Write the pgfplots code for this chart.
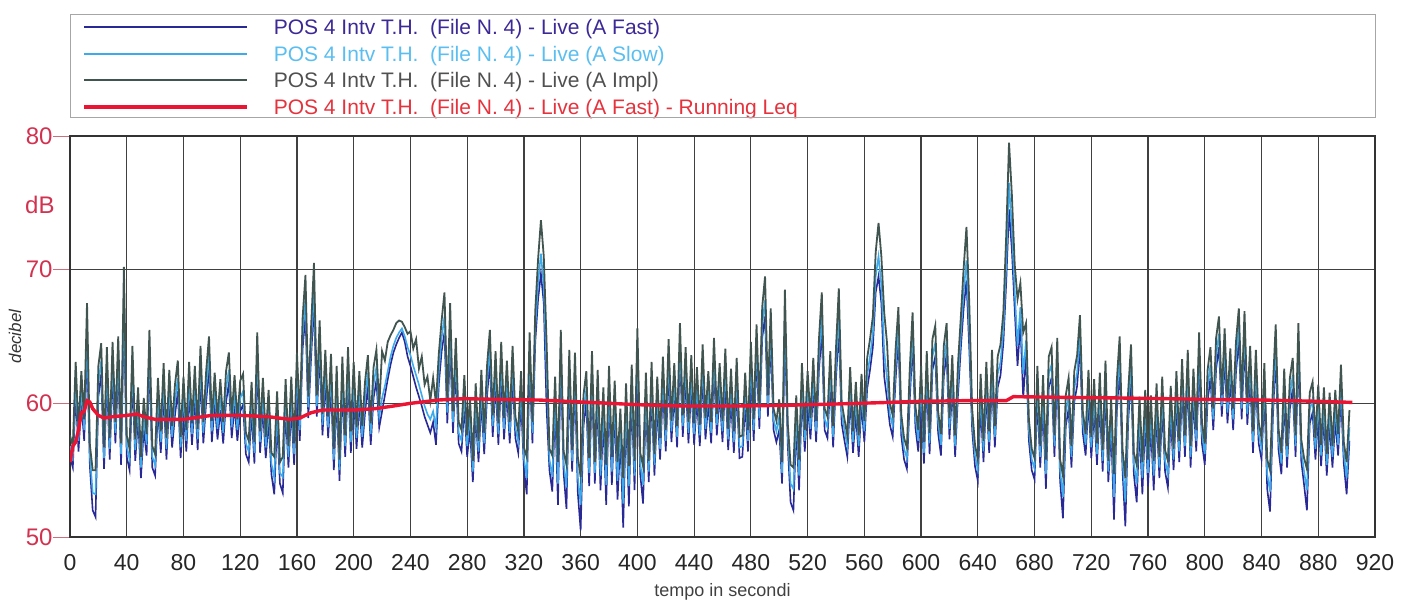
\documentclass[border=0pt]{standalone}
\usepackage{pgfplots}
\pgfplotsset{compat=1.18}
\usepackage{pgfplotstable}
\usepackage{fontspec}
\setmainfont{Liberation Sans}

\definecolor{ylab}{RGB}{210,50,80}
\definecolor{fastc}{RGB}{40,40,150}
\definecolor{slowc}{RGB}{60,170,235}
\definecolor{implc}{RGB}{65,85,80}
\definecolor{leqc}{RGB}{235,20,50}
\definecolor{fastt}{RGB}{60,40,150}
\definecolor{slowt}{RGB}{90,190,240}
\definecolor{implt}{RGB}{80,80,80}
\definecolor{leqt}{RGB}{230,50,60}

% t, A Fast, A Slow, A Impl (every 2 s)
\pgfplotstableread{
t fast slow impl
0 56.0 56.8 57.6
2 55.2 56.0 56.8
4 60.8 61.8 63.1
6 56.4 57.2 58.0
8 60.1 61.1 62.4
10 57.2 58.0 58.8
12 64.0 65.2 67.5
14 55.3 56.1 56.9
16 52.0 53.3 55.0
18 51.5 53.2 55.0
20 60.5 61.5 62.8
22 62.2 63.2 64.5
24 55.1 55.9 56.7
26 61.9 62.9 64.2
28 55.8 56.6 57.4
30 62.3 63.3 64.6
32 57.0 57.8 58.6
34 62.7 63.7 65.0
36 55.4 56.2 57.0
38 66.5 67.8 70.2
40 56.0 56.8 57.6
42 55.0 55.8 56.6
44 62.0 63.0 64.3
46 55.7 56.5 57.3
48 58.9 59.9 61.2
50 54.4 55.2 56.0
52 58.1 59.1 60.4
54 56.1 56.9 57.7
56 63.2 64.2 65.5
58 55.2 56.0 56.8
60 54.6 55.4 56.2
62 59.6 60.6 61.9
64 56.3 57.1 57.9
66 60.7 61.7 63.0
68 55.8 56.6 57.4
70 60.2 61.2 62.5
72 56.7 57.5 58.3
74 59.1 60.1 61.4
76 60.9 61.9 63.2
78 55.9 56.7 57.5
80 59.7 60.7 62.0
82 56.4 57.2 58.0
84 60.8 61.8 63.1
86 56.9 57.7 58.5
88 60.5 61.5 62.8
90 56.5 57.3 58.1
92 62.0 63.0 64.3
94 57.0 57.8 58.6
96 60.1 61.1 62.4
98 62.7 63.7 65.0
100 57.1 57.9 58.7
102 60.0 61.0 62.3
104 57.3 58.1 58.9
106 59.5 60.5 61.8
108 57.0 57.8 58.6
110 60.1 61.1 62.4
112 61.5 62.5 63.8
114 57.4 58.2 59.0
116 59.8 60.8 62.1
118 57.2 58.0 58.8
120 59.4 60.4 61.7
122 59.9 60.9 62.2
124 56.2 57.0 57.8
126 55.6 56.4 57.2
128 59.3 60.3 61.6
130 55.5 56.3 57.1
132 63.0 64.0 65.3
134 56.3 57.1 57.9
136 59.6 60.6 61.9
138 55.9 56.7 57.5
140 58.7 59.7 61.0
142 54.7 55.5 56.3
144 53.2 54.4 56.0
146 58.6 59.6 60.9
148 54.0 54.8 55.6
150 53.3 54.5 56.0
152 59.5 60.5 61.8
154 55.2 56.0 56.8
156 59.7 60.7 62.0
158 55.4 56.2 57.0
160 61.5 62.5 63.8
162 57.2 58.0 58.8
164 64.1 65.1 66.4
166 66.6 67.8 69.6
168 58.9 59.7 60.5
170 63.5 64.5 65.8
172 67.5 68.7 70.5
174 59.0 59.8 60.6
176 63.9 64.9 66.2
178 57.6 58.4 59.2
180 61.7 62.7 64.0
182 57.4 58.2 59.0
184 61.4 62.4 63.7
186 55.0 55.8 56.6
188 60.5 61.5 62.8
190 54.2 55.0 55.8
192 61.2 62.2 63.5
194 56.0 56.8 57.6
196 61.9 62.9 64.2
198 56.3 57.1 57.9
200 60.8 61.8 63.1
202 56.6 57.4 58.2
204 60.1 61.1 62.4
206 56.7 57.5 58.3
208 59.3 60.3 61.6
210 61.3 62.3 63.6
212 56.9 57.7 58.5
214 60.4 61.4 62.7
216 61.7 62.7 64.0
218 58.2 59.0 59.8
220 59.4 60.4 63.9
222 60.6 61.3 63.2
224 61.8 62.4 64.6
226 62.9 63.5 65.1
228 63.8 64.3 65.5
230 64.4 64.9 66.0
232 64.9 65.3 66.2
234 65.3 65.6 66.1
236 64.6 65.0 65.7
238 63.5 64.2 65.2
240 62.8 63.6 65.4
242 62.0 62.8 64.1
244 61.2 62.1 64.8
246 60.5 61.4 62.6
248 59.8 60.6 63.5
250 59.0 59.8 61.4
252 58.4 59.2 62.0
254 57.8 58.8 60.2
256 58.6 59.4 61.9
258 56.9 58.2 60.0
260 61.4 62.4 63.7
262 63.9 64.9 66.2
264 65.3 66.5 68.3
266 58.5 59.3 60.1
268 64.5 65.7 67.5
270 57.8 58.6 59.4
272 62.6 63.6 64.9
274 57.0 57.8 58.6
276 56.4 57.2 58.0
278 59.8 60.8 62.1
280 56.0 56.8 57.6
282 58.1 59.1 60.4
284 54.1 54.9 55.7
286 59.2 60.2 61.5
288 55.6 56.4 57.2
290 60.2 61.2 62.5
292 56.2 57.0 57.8
294 60.5 61.5 62.8
296 63.2 64.2 65.5
298 57.5 58.3 59.1
300 61.6 62.6 63.9
302 56.9 57.7 58.5
304 62.3 63.3 64.6
306 57.3 58.1 58.9
308 60.9 61.9 63.2
310 57.0 57.8 58.6
312 62.0 63.0 64.3
314 57.4 58.2 59.0
316 56.3 57.1 57.9
318 60.1 61.1 62.4
320 55.1 55.9 56.7
322 53.2 54.4 56.0
324 63.0 64.0 65.3
326 57.0 57.8 58.6
328 64.6 65.6 66.9
330 67.8 69.0 70.8
332 69.7 71.2 73.7
334 67.5 68.8 71.0
336 59.6 62.4 64.5
338 55.0 55.8 56.6
340 53.4 54.5 56.1
342 59.7 60.7 62.0
344 52.4 54.0 55.6
346 63.2 64.2 65.5
348 54.8 55.6 56.4
350 52.1 53.7 55.4
352 61.7 62.7 64.0
354 54.9 55.7 56.5
356 61.5 62.5 63.8
358 53.3 54.5 56.0
360 50.5 52.4 54.5
362 58.3 59.3 60.6
364 60.1 61.1 62.4
366 53.8 54.8 55.9
368 61.6 62.6 63.9
370 54.0 54.8 55.6
372 60.2 61.2 62.5
374 53.5 54.6 55.8
376 58.9 59.9 61.2
378 52.4 53.9 55.4
380 60.5 61.5 62.8
382 53.9 54.9 56.0
384 59.4 60.4 61.7
386 52.8 54.2 55.6
388 57.3 58.3 59.6
390 50.7 52.5 54.4
392 59.2 60.2 61.5
394 52.3 53.8 55.3
396 60.6 61.6 62.9
398 53.5 54.6 55.7
400 63.3 64.3 65.6
402 54.7 55.5 56.3
404 52.5 53.9 55.3
406 60.0 61.0 62.3
408 54.1 54.9 55.7
410 60.8 61.8 63.1
412 54.6 55.4 56.2
414 59.7 60.7 62.0
416 55.8 56.6 57.4
418 61.2 62.2 63.5
420 56.4 57.2 58.0
422 62.5 63.5 64.8
424 57.1 57.9 58.7
426 60.7 61.7 63.0
428 56.7 57.5 58.3
430 63.7 64.7 66.0
432 57.5 58.3 59.1
434 61.9 62.9 64.2
436 57.0 57.8 58.6
438 61.3 62.3 63.6
440 56.9 57.7 58.5
442 60.4 61.4 62.7
444 56.8 57.6 58.4
446 62.1 63.1 64.4
448 57.3 58.1 58.9
450 60.1 61.1 62.4
452 57.0 57.8 58.6
454 62.6 63.6 64.9
456 57.6 58.4 59.2
458 60.7 61.7 63.0
460 57.1 57.9 58.7
462 61.8 62.8 64.1
464 56.5 57.3 58.1
466 60.3 61.3 62.6
468 56.3 57.1 57.9
470 61.1 62.1 63.4
472 55.9 56.7 57.5
474 56.0 56.8 57.6
476 60.0 61.0 62.3
478 56.4 57.2 58.0
480 62.3 63.3 64.6
482 57.2 58.0 58.8
484 63.6 64.6 65.9
486 58.1 58.9 59.7
488 64.9 65.9 67.2
490 66.5 67.7 69.5
492 59.0 59.8 60.6
494 64.8 65.8 67.1
496 58.0 58.8 59.6
498 57.1 57.9 58.7
500 58.0 59.0 60.3
502 54.0 54.8 55.6
504 65.5 66.7 68.5
506 56.9 57.7 58.5
508 52.6 54.0 55.4
510 52.0 53.6 55.2
512 58.3 59.3 60.6
514 53.5 54.6 55.8
516 60.7 61.7 63.0
518 56.4 57.2 58.0
520 60.1 61.1 62.4
522 57.3 58.1 58.9
524 61.1 62.1 63.4
526 57.1 57.9 58.7
528 62.5 63.5 64.8
530 65.3 66.5 68.3
532 58.0 58.8 59.6
534 57.4 58.2 59.0
536 61.6 62.6 63.9
538 56.7 57.5 58.3
540 61.8 62.8 64.1
542 65.6 66.8 68.6
544 58.5 59.3 60.1
546 57.2 58.0 58.8
548 56.0 56.8 57.6
550 60.4 61.4 62.7
552 56.3 57.1 57.9
554 59.3 60.3 61.6
556 56.0 56.8 57.6
558 59.9 60.9 62.2
560 57.1 57.9 58.7
562 61.1 62.1 63.4
564 62.5 63.5 64.8
566 64.2 65.2 66.5
568 68.3 69.5 71.3
570 69.5 71.0 73.5
572 67.5 68.8 71.0
574 62.0 63.9 66.8
576 60.3 61.8 64.5
578 58.4 59.2 60.0
580 57.5 58.3 59.1
582 61.7 62.7 64.0
584 64.9 65.9 67.2
586 57.6 58.4 59.2
588 55.8 56.6 57.4
590 55.1 55.9 56.7
592 60.2 61.2 62.5
594 64.5 65.5 66.8
596 58.2 59.0 59.8
598 56.4 57.2 58.0
600 60.5 61.5 62.8
602 55.5 56.3 57.1
604 61.6 62.6 63.9
606 56.2 57.0 57.8
608 62.5 63.5 64.8
610 63.5 64.5 65.8
612 57.8 58.6 59.4
614 56.1 56.9 57.7
616 62.0 63.0 64.3
618 63.7 64.7 66.0
620 57.3 58.1 58.9
622 61.3 62.3 63.6
624 56.0 56.8 57.6
626 60.6 61.6 62.9
628 64.1 65.1 66.4
630 67.1 68.3 70.1
632 69.2 70.7 73.2
634 64.0 65.3 67.4
636 58.0 58.8 59.6
638 55.3 56.1 56.9
640 54.2 55.0 55.8
642 59.9 60.9 62.2
644 55.6 56.4 57.2
646 60.8 61.8 63.1
648 56.3 57.1 57.9
650 61.7 62.7 64.0
652 56.7 57.5 58.3
654 61.2 62.2 63.5
656 62.1 63.1 64.4
658 64.5 65.5 66.8
660 69.0 70.3 72.5
662 74.5 76.5 79.5
664 71.5 73.0 75.6
666 67.0 68.4 70.4
668 62.8 64.3 67.8
670 66.0 67.2 69.0
672 60.4 62.2 65.3
674 63.7 64.7 66.0
676 57.2 58.0 58.8
678 55.0 55.8 56.6
680 54.3 55.1 55.9
682 60.5 61.5 62.8
684 55.2 56.0 56.8
686 59.8 60.8 62.1
688 53.6 54.7 55.8
690 61.2 62.2 63.5
692 61.9 62.9 64.2
694 56.0 56.8 57.6
696 62.6 63.6 64.9
698 54.2 55.0 55.8
700 51.4 53.0 54.6
702 58.3 59.3 60.6
704 59.6 60.6 61.9
706 55.2 56.0 56.8
708 60.1 61.1 62.4
710 61.3 62.3 63.6
712 64.3 65.3 66.6
714 57.8 58.6 59.4
716 56.1 56.9 57.7
718 60.2 61.2 62.5
720 55.9 56.7 57.5
722 59.5 60.5 61.8
724 55.4 56.2 57.0
726 60.0 61.0 62.3
728 54.9 55.7 56.5
730 60.9 61.9 63.2
732 54.1 54.9 55.7
734 58.1 59.1 60.4
736 51.3 53.0 54.7
738 59.4 60.4 61.7
740 62.7 63.7 65.0
742 55.0 55.8 56.6
744 50.8 52.6 54.4
746 58.6 59.6 60.9
748 62.1 63.1 64.4
750 54.7 55.5 56.3
752 52.6 54.0 55.4
754 58.2 59.2 60.5
756 53.2 54.4 55.6
758 58.7 59.7 61.0
760 53.8 54.8 55.8
762 58.3 59.3 60.6
764 53.5 54.6 55.7
766 59.2 60.2 61.5
768 54.4 55.2 56.0
770 59.7 60.7 62.0
772 54.9 55.7 56.5
774 53.7 54.7 55.7
776 59.0 60.0 61.3
778 55.0 55.8 56.6
780 60.1 61.1 62.4
782 55.6 56.4 57.2
784 61.0 62.0 63.3
786 56.0 56.8 57.6
788 61.7 62.7 64.0
790 55.2 56.0 56.8
792 60.3 61.3 62.6
794 56.4 57.2 58.0
796 63.0 64.0 65.3
798 57.0 57.8 58.6
800 55.4 56.2 57.0
802 60.2 61.2 62.5
804 61.9 62.9 64.2
806 58.0 58.8 59.6
808 62.6 63.6 64.9
810 64.2 65.2 66.5
812 59.0 59.8 60.6
814 63.3 64.3 65.6
816 58.5 59.3 60.1
818 61.8 62.8 64.1
820 58.0 58.8 59.6
822 62.3 63.3 64.6
824 64.8 65.8 67.1
826 58.8 59.6 60.4
828 64.6 65.6 66.9
830 58.4 59.2 60.0
832 62.0 63.0 64.3
834 56.3 57.1 57.9
836 61.7 62.7 64.0
838 57.0 57.8 58.6
840 55.8 56.6 57.4
842 60.7 61.7 63.0
844 53.6 54.7 55.8
846 51.9 53.4 55.0
848 58.9 59.9 61.2
850 63.6 64.6 65.9
852 56.5 57.3 58.1
854 54.7 55.5 56.3
856 60.3 61.3 62.6
858 55.2 56.0 56.8
860 59.6 60.6 61.9
862 61.1 62.1 63.4
864 56.0 56.8 57.6
866 63.7 64.7 66.0
868 55.7 56.5 57.3
870 53.9 54.9 55.9
872 52.0 53.5 55.1
874 58.5 59.5 60.8
876 59.3 60.3 61.6
878 55.8 56.6 57.4
880 59.1 60.1 61.4
882 55.3 56.1 56.9
884 58.9 59.9 61.2
886 54.6 55.4 56.2
888 58.5 59.5 60.8
890 55.2 56.0 56.8
892 58.7 59.7 61.0
894 56.1 56.9 57.7
896 60.6 61.6 62.9
898 55.5 56.3 57.1
900 53.2 54.4 55.6
902 57.2 58.2 59.5
}\livedata

% running Leq (A Fast)
\pgfplotstableread{
t leq
0 55.6
2 56.8
4 57.1
6 58.0
8 59.3
10 59.4
12 60.2
14 60.1
16 59.6
20 59.1
24 58.9
30 59.0
40 59.1
47 59.2
52 59.0
60 58.8
80 58.8
100 59.1
120 59.1
140 59.0
155 58.8
162 58.9
170 59.3
178 59.5
200 59.5
215 59.6
228 59.8
240 60.0
260 60.25
278 60.35
300 60.3
330 60.25
361 60.1
400 59.9
432 59.8
470 59.8
503 59.85
540 59.95
571 60.05
600 60.15
630 60.2
660 60.2
665 60.5
700 60.45
740 60.4
772 60.35
800 60.3
840 60.25
880 60.15
904 60.07
}\leqdata

\begin{document}
\begin{tikzpicture}
\useasboundingbox (0,0) rectangle (706pt,300.5pt);
\begin{axis}[
  at={(35pt,32pt)}, anchor=south west,
  scale only axis, width=652.5pt, height=200.5pt,
  xmin=0, xmax=920, ymin=50, ymax=80,
  xtick={0,40,...,920}, ytick={50,60,70,80},
  grid=major, major grid style={black!75, line width=0.6pt},
  axis line style={black!80, line width=0.7pt},
  tick align=outside, tick pos=left, major tick length=8.5pt,
  xtick style={draw=none},
  ytick style={draw={rgb,255:red,205;green,110;blue,125}, line width=0.5pt},
  xticklabel style={font=\fontsize{11.5}{12}\selectfont, inner sep=0pt, text=black!85},
  yticklabel style={font=\fontsize{12}{13}\selectfont, inner sep=0pt, text=ylab},
  /pgf/number format/assume math mode=true,
  xlabel={tempo in secondi},
  xlabel style={at={(axis description cs:0.5,0)}, anchor=center, yshift=-27.5pt,
    font=\fontsize{9}{10}\selectfont, text=black!75},
  ylabel={decibel},
  ylabel style={at={(axis description cs:-0.0421,0.5)}, anchor=center,
    font=\fontsize{8.5}{9}\selectfont\itshape, text=black!80},
  legend style={at={(0.0092,1.292)}, anchor=north west, draw=none, fill=none,
    inner sep=0pt, row sep=3.5pt, font=\fontsize{10.5}{12}\selectfont,
    nodes={inner sep=0pt, text height=7.6pt, text depth=2.2pt, anchor=west}},
  legend cell align=left,
  legend image code/.code={\draw[#1] (0pt,1pt) -- (81.5pt,1pt); \path (94pt,1pt);},
]
\addplot[fastc, line width=0.8pt] table[x=t, y=fast] {\livedata};
\addlegendentry{\textcolor{fastt}{POS 4 Intv T.H.~~(File N. 4) - Live (A Fast)}}
\addplot[slowc, line width=0.8pt] table[x=t, y=slow] {\livedata};
\addlegendentry{\textcolor{slowt}{POS 4 Intv T.H.~~(File N. 4) - Live (A Slow)}}
\addplot[implc, line width=0.9pt] table[x=t, y=impl] {\livedata};
\addlegendentry{\textcolor{implt}{POS 4 Intv T.H.~~(File N. 4) - Live (A Impl)}}
\addplot[leqc, line width=1.7pt] table[x=t, y=leq] {\leqdata};
\addlegendentry{\textcolor{leqt}{POS 4 Intv T.H.~~(File N. 4) - Live (A Fast) - Running Leq}}
\end{axis}
% legend frame
\draw[black!35, line width=0.5pt] (35pt,241.5pt) rectangle (687.5pt,293pt);
\node[anchor=east, inner sep=0pt, text=ylab, font=\fontsize{12}{13}\selectfont] at (27.5pt,198pt) {dB};
\end{tikzpicture}
\end{document}
